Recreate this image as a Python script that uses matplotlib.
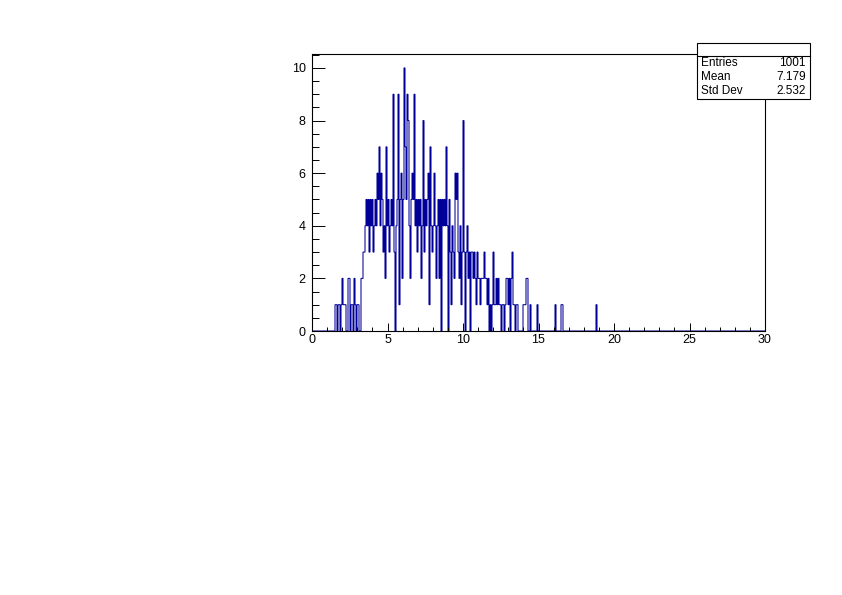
import numpy as np
import matplotlib
matplotlib.use('Agg')
import matplotlib.pyplot as plt
from matplotlib.patches import Rectangle
from matplotlib.lines import Line2D
from matplotlib.ticker import MultipleLocator

# histogram binning: equal bins on [x_min, x_max]
n_bins = 453
x_min, x_max = 0.0, 30.0
first_bin = 23  # first non-empty bin

# bin contents, starting at first_bin
counts = [
    1, 1, 0, 1, 1, 0, 1, 2, 1, 1,
    1, 0, 0, 2, 2, 0, 1, 1, 0, 2,
    1, 0, 1, 1, 0, 0, 2, 2, 3, 3,
    4, 5, 4, 5, 3, 5, 4, 5, 3, 4,
    5, 4, 6, 5, 7, 4, 6, 5, 3, 4,
    2, 7, 4, 5, 3, 4, 5, 4, 9, 3,
    0, 4, 5, 9, 1, 5, 6, 2, 5, 10,
    7, 5, 9, 8, 4, 2, 5, 6, 5, 9,
    4, 5, 3, 5, 4, 5, 2, 4, 8, 3,
    5, 4, 5, 6, 1, 7, 4, 3, 4, 6,
    4, 2, 4, 5, 2, 5, 0, 5, 4, 5,
    4, 7, 4, 0, 5, 3, 1, 4, 3, 2,
    6, 5, 6, 3, 2, 4, 1, 3, 8, 3,
    0, 3, 4, 2, 3, 0, 3, 3, 2, 3,
    2, 1, 3, 2, 2, 1, 2, 2, 2, 3,
    2, 2, 1, 2, 0, 1, 0, 1, 3, 1,
    1, 2, 1, 2, 1, 1, 0, 1, 1, 0,
    1, 2, 2, 1, 2, 0, 2, 3, 1, 1,
    0, 1, 1, 0, 0, 0, 0, 0, 1, 1,
    1, 2, 2, 0, 0, 1, 0, 0, 0, 0,
    0, 0, 1, 0, 0, 0, 0, 0, 0, 0,
    0, 0, 0, 0, 0, 0, 0, 0, 0, 0,
    1, 0, 0, 0, 0, 0, 1, 1, 0, 0,
    0, 0, 0, 0, 0, 0, 0, 0, 0, 0,
    0, 0, 0, 0, 0, 0, 0, 0, 0, 0,
    0, 0, 0, 0, 0, 0, 0, 0, 0, 0,
    0, 1,
]

stat_names = ['Entries', 'Mean', 'Std Dev']
stat_values = ['1001', '7.179', '2.532']

contents = np.zeros(n_bins)
contents[first_bin:first_bin + len(counts)] = counts
edges = np.linspace(x_min, x_max, n_bins + 1)

plt.rcParams['font.family'] = ['Liberation Sans', 'DejaVu Sans']

W, H = 842, 595
fig = plt.figure(figsize=(W / 100, H / 100), dpi=100)
ax = fig.add_axes([312 / W, (H - 331) / H, 453 / W, 277 / H])

ax.stairs(contents, edges, color='#000099', lw=0.75, snap=False)

ax.set_xlim(x_min, x_max)
ax.set_ylim(0, 10.53)
ax.xaxis.set_major_locator(MultipleLocator(5))
ax.xaxis.set_minor_locator(MultipleLocator(1))
ax.yaxis.set_major_locator(MultipleLocator(2))
ax.yaxis.set_minor_locator(MultipleLocator(0.5))

for s in ax.spines.values():
    s.set_linewidth(0.8)
ax.tick_params(which='both', direction='in', top=False, right=False,
               width=0.7, labelsize=9)
ax.tick_params(axis='x', which='major', length=5.8, pad=2.5)
ax.tick_params(axis='x', which='minor', length=2.9)
ax.tick_params(axis='y', which='major', length=9.4, pad=4.5)
ax.tick_params(axis='y', which='minor', length=4.7)

# stats box
bx0, bx1, by0, by1 = 697, 810, 43, 99
fig.add_artist(Rectangle((bx0 / W, 1 - by1 / H), (bx1 - bx0) / W, (by1 - by0) / H,
                         transform=fig.transFigure, facecolor='white',
                         edgecolor='black', lw=0.8, zorder=10))
fig.add_artist(Line2D([bx0 / W, bx1 / W], [1 - 55.5 / H, 1 - 55.5 / H],
                      transform=fig.transFigure, color='black', lw=0.8, zorder=11))
row_y = [63.5, 77.0, 91.0]
for name, val, y in zip(stat_names, stat_values, row_y):
    fig.text(701 / W, 1 - y / H, name, ha='left', va='center', fontsize=8.5, zorder=12)
    fig.text(806 / W, 1 - y / H, val, ha='right', va='center', fontsize=8.5, zorder=12)

fig.savefig('out.png', dpi=100)
